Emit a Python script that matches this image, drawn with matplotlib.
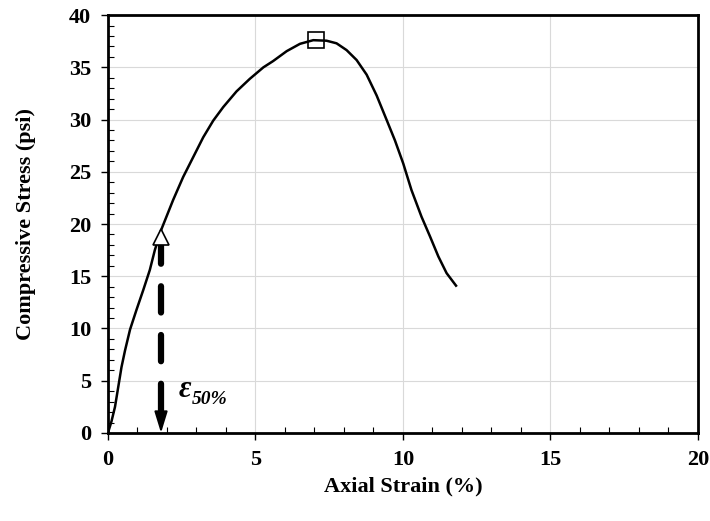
import matplotlib
matplotlib.use('Agg')
import matplotlib.pyplot as plt
from matplotlib.ticker import MultipleLocator

# Curva esfuerzo-deformación
strain = [0, 0.12, 0.24, 0.35, 0.46, 0.58, 0.75, 0.97, 1.2, 1.42, 1.59, 1.8,
          2.21, 2.55, 2.89, 3.23, 3.57, 3.91, 4.36, 4.81, 5.27, 5.6, 6.06,
          6.51, 6.96, 7.41, 7.75, 8.09, 8.43, 8.77, 9.11, 9.45, 9.73, 10.01,
          10.29, 10.63, 10.92, 11.2, 11.48, 11.8]
stress = [0, 1.1, 2.5, 4.4, 6.3, 7.9, 9.9, 11.8, 13.7, 15.6, 17.5, 19.4,
          22.3, 24.5, 26.4, 28.3, 29.9, 31.2, 32.7, 33.9, 35.0, 35.6, 36.55,
          37.25, 37.6, 37.55, 37.3, 36.65, 35.7, 34.3, 32.3, 29.95, 28.0, 25.8,
          23.25, 20.7, 18.8, 16.9, 15.3, 14.1]

peak_strain = 7.05
peak_stress = 37.6
e50_strain = 1.8
e50_stress = 18.8

plt.rcParams['font.family'] = 'Liberation Serif'
plt.rcParams['font.weight'] = 'bold'

fig = plt.figure(figsize=(7.1, 5.21), dpi=100)
ax = fig.add_axes([0.152, 0.169, 0.831, 0.802])

ax.grid(True, which='major', color='#d9d9d9', linewidth=0.8, zorder=0)

ax.plot(strain, stress, color='black', linewidth=1.8, zorder=3)
ax.plot([peak_strain], [peak_stress], marker='s', markersize=11.5,
        markerfacecolor='none', markeredgecolor='black', markeredgewidth=1.2,
        linestyle='none', zorder=4)

# flecha discontinua para eps50
ax.plot([e50_strain, e50_strain], [2.2, e50_stress - 0.5], color='black',
        linewidth=4.5, linestyle=(0, (4.2, 3.6)), solid_capstyle='round',
        dash_capstyle='round', zorder=3)
ax.annotate('', xy=(e50_strain, 0), xytext=(e50_strain, 2.3),
            arrowprops=dict(arrowstyle='-|>,head_length=1.3,head_width=0.4',
                            color='black', lw=1.5, shrinkA=0, shrinkB=0),
            zorder=4)
ax.plot([e50_strain], [e50_stress], marker='^', markersize=12,
        markerfacecolor='white', markeredgecolor='black', markeredgewidth=1.2,
        linestyle='none', zorder=4)

ax.text(2.4, 3.45, 'ε', fontsize=22, fontstyle='italic', fontweight='bold',
        ha='left', va='baseline')
ax.text(2.84, 2.75, '50%', fontsize=14, fontstyle='italic', fontweight='bold',
        ha='left', va='baseline')

ax.set_xlim(0, 20)
ax.set_ylim(0, 40)
ax.xaxis.set_major_locator(MultipleLocator(5))
ax.yaxis.set_major_locator(MultipleLocator(5))
ax.xaxis.set_minor_locator(MultipleLocator(1))
ax.yaxis.set_minor_locator(MultipleLocator(1))
ax.tick_params(which='major', direction='out', length=5, width=1,
               labelsize=16, pad=7)
ax.tick_params(which='minor', direction='in', length=4, width=0.8)

for s in ax.spines.values():
    s.set_linewidth(2)

ax.set_xlabel('Axial Strain (%)', fontsize=16, fontweight='bold', labelpad=5)
ax.set_ylabel('Compressive Stress (psi)', fontsize=16, fontweight='bold',
              labelpad=24)

fig.savefig('out.png', dpi=100)
